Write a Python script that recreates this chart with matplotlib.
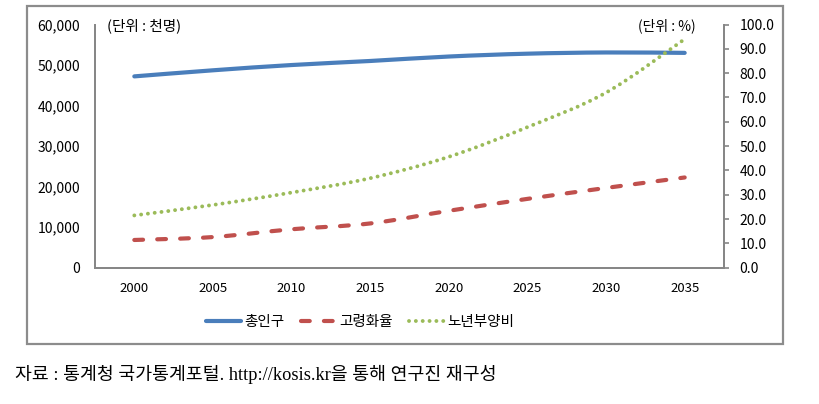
import matplotlib
matplotlib.use("Agg")
import matplotlib.pyplot as plt
from matplotlib.path import Path
from matplotlib.patches import PathPatch, Rectangle
from matplotlib.lines import Line2D
from matplotlib.ticker import FuncFormatter
import numpy as np

plt.rcParams['font.family'] = ['Noto Sans CJK KR', 'DejaVu Sans']

# 데이터
years = ['2000', '2005', '2010', '2015', '2020', '2025', '2030', '2035']
total_pop = [47200, 48700, 50000, 51000, 52100, 52800, 53100, 53000]  # 천명, 왼쪽 축
aging_rate = [11.4, 12.6, 15.8, 18.2, 23.4, 28.3, 32.8, 37.1]         # %, 오른쪽 축
old_dep = [21.5, 25.8, 30.9, 36.8, 45.6, 57.8, 72.0, 94.0]            # %, 오른쪽 축

labels = ['총인구', '고령화율', '노년부양비']
colors = ['#4A7EBB', '#C0504D', '#9BBB59']
GRAY = '#868686'


def smooth_path(xs, ys):
    # 엑셀 '곡선' 옵션처럼 베지어 곡선으로 연결
    pts = np.column_stack([xs, ys]).astype(float)
    n = len(pts)
    verts = [pts[0]]
    codes = [Path.MOVETO]
    for i in range(n - 1):
        p0 = pts[i - 1] if i > 0 else pts[i]
        p1 = pts[i]
        p2 = pts[i + 1]
        p3 = pts[i + 2] if i + 2 < n else pts[i + 1]
        verts += [p1 + (p2 - p0) / 6, p2 - (p3 - p1) / 6, p2]
        codes += [Path.CURVE4] * 3
    return Path(verts, codes)


fig = plt.figure(figsize=(8.2, 4.04), dpi=100)
ax = fig.add_axes([95 / 820, 136.3 / 404, 629 / 820, 243.2 / 404])
ax2 = ax.twinx()

x = np.arange(len(years))

styles = [
    dict(linestyle='-', lw=3.0),
    dict(linestyle=(0, (2.1, 3.4)), lw=3.0),
    dict(linestyle=(0, (0.01, 1.75)), lw=2.8),
]

ax.add_patch(PathPatch(smooth_path(x, total_pop), fill=False, ec=colors[0],
                       capstyle='round', **styles[0]))
ax2.add_patch(PathPatch(smooth_path(x, aging_rate), fill=False, ec=colors[1],
                        capstyle='round', **styles[1]))
ax2.add_patch(PathPatch(smooth_path(x, old_dep), fill=False, ec=colors[2],
                        capstyle='round', **styles[2]))

ax.set_xlim(-0.5, len(years) - 0.5)
ax.set_ylim(0, 60000)
ax2.set_ylim(0, 100)
ax.set_xticks(x)
ax.set_xticklabels(years)
ax.set_yticks(np.arange(0, 60001, 10000))
ax.yaxis.set_major_formatter(FuncFormatter(lambda v, p: f'{int(v):,}'))
ax2.set_yticks(np.arange(0, 101, 10))
ax2.yaxis.set_major_formatter(FuncFormatter(lambda v, p: f'{v:.1f}'))

ax.tick_params(axis='x', length=0, pad=10.5, labelsize=9.5)
ax.tick_params(axis='y', length=0, pad=10.8, labelsize=10)
ax2.tick_params(axis='y', length=3.6, width=1.2, color=GRAY, pad=7.5, labelsize=10)

for a in (ax, ax2):
    a.spines['top'].set_visible(False)
    for s in ('left', 'right', 'bottom'):
        a.spines[s].set_color(GRAY)
        a.spines[s].set_linewidth(1.3)

# 단위 표시
fig.text(107 / 820, 1 - 26 / 404, '(단위 : 천명)', fontsize=10.5, va='center', ha='left')
fig.text(696 / 820, 1 - 26 / 404, '(단위 : %)', fontsize=10, va='center', ha='right')

# 범례
handles = [Line2D([], [], color=c, solid_capstyle='round', dash_capstyle='round', **st)
           for c, st in zip(colors, styles)]
fig.legend(handles, labels, loc='center', bbox_to_anchor=(360 / 820, 1 - 322 / 404),
           ncol=3, frameon=False, fontsize=10.5, handlelength=2.4, handletextpad=0.2,
           columnspacing=1.15)

# 바깥 테두리
fig.patches.append(Rectangle((27 / 820, 60 / 404), 756 / 820, 338 / 404,
                             transform=fig.transFigure, fill=False, ec='#8c8c8c', lw=1.6))

# 출처
fig.text(15 / 820, 1 - 374 / 404, '자료 : 통계청 국가통계포털. http://kosis.kr을 통해 연구진 재구성',
         fontsize=13.2, va='center', ha='left', family=['Liberation Serif', 'Noto Sans CJK KR'])

fig.savefig('out.png', dpi=100)
